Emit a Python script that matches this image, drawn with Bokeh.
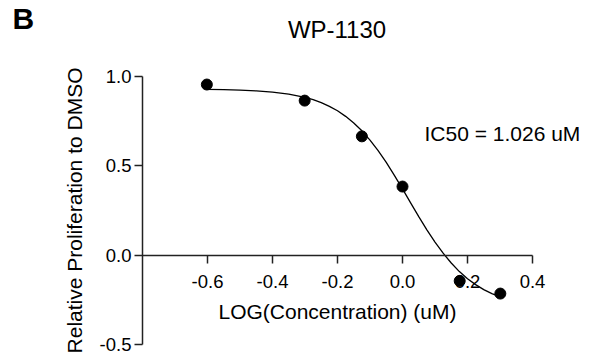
from bokeh.plotting import figure
from bokeh.models import LinearAxis, FixedTicker, NumeralTickFormatter, Label, Range1d
from bokeh.embed import file_html
from bokeh.resources import INLINE

# Data
log_conc = [-0.602, -0.301, -0.125, 0.0, 0.176, 0.301]
rel_prolif = [0.955, 0.865, 0.665, 0.384, -0.144, -0.215]

# fitted dose-response curve
curve_x = [-0.602, -0.55, -0.5, -0.45, -0.4, -0.35, -0.3, -0.275, -0.25, -0.225,
           -0.2, -0.175, -0.15, -0.125, -0.1, -0.075, -0.05, -0.025, 0.0, 0.025,
           0.05, 0.075, 0.1, 0.125, 0.15, 0.175, 0.2, 0.225, 0.25, 0.275, 0.301]
curve_y = [0.928, 0.926, 0.924, 0.919, 0.912, 0.901, 0.883, 0.870, 0.854, 0.833,
           0.808, 0.777, 0.740, 0.696, 0.644, 0.585, 0.519, 0.447, 0.371, 0.293,
           0.216, 0.142, 0.073, 0.011, -0.044, -0.092, -0.132, -0.165, -0.193, -0.215, -0.234]

x_ticks = [-0.6, -0.4, -0.2, 0.0, 0.2, 0.4]
y_ticks = [-0.5, 0.0, 0.5, 1.0]
x_bounds = (-0.8, 0.4)
y_bounds = (-0.5, 1.0)

title_text = "WP-1130"
panel_letter = "B"
ic50_text = "IC50 = 1.026 uM"
x_label = "LOG(Concentration) (uM)"
y_label = "Relative Proliferation to DMSO"

FONT = "Liberation Sans"
AX = "#222222"

p = figure(width=589, height=364, x_range=Range1d(-1.23692, 0.57538), y_range=Range1d(-0.61194, 1.42537),
           toolbar_location=None, output_backend="svg",
           x_axis_location=None, y_axis_location=None,
           min_border_left=0, min_border_right=0, min_border_top=0, min_border_bottom=0)
p.grid.visible = False
p.outline_line_color = None
p.background_fill_color = "white"
p.border_fill_color = "white"


def style_axis(ax, label_size):
    ax.axis_line_color = AX
    ax.axis_line_width = 1.5
    ax.major_tick_line_color = AX
    ax.major_tick_line_width = 1.5
    ax.major_tick_in = 0
    ax.major_tick_out = 8
    ax.minor_tick_in = 0
    ax.minor_tick_out = 0
    ax.major_label_text_font = FONT
    ax.major_label_text_font_size = "18.5px"
    ax.major_label_text_color = "black"
    ax.axis_label_text_font = FONT
    ax.axis_label_text_font_size = label_size
    ax.axis_label_text_font_style = "normal"
    ax.axis_label_text_color = "black"


yaxis = LinearAxis(ticker=FixedTicker(ticks=y_ticks), formatter=NumeralTickFormatter(format="0.0"),
                   axis_label=y_label, fixed_location=x_bounds[0], bounds=y_bounds)
style_axis(yaxis, "21px")
yaxis.major_label_standoff = 3
yaxis.axis_label_standoff = 11
p.add_layout(yaxis, "left")

xaxis = LinearAxis(ticker=FixedTicker(ticks=x_ticks), formatter=NumeralTickFormatter(format="0.0"),
                   axis_label=x_label, fixed_location=0, bounds=x_bounds)
style_axis(xaxis, "21px")
xaxis.major_label_standoff = 12
xaxis.axis_label_standoff = 8
p.add_layout(xaxis, "below")

p.line(curve_x, curve_y, line_color="black", line_width=1.3)
p.scatter(log_conc, rel_prolif, size=11, color="black")

p.add_layout(Label(x=-0.2015, y=1.2631, text=title_text, text_align="center", text_baseline="alphabetic",
                   text_font=FONT, text_font_size="24px", text_color="black"))
p.add_layout(Label(x=-1.2, y=1.3246, text=panel_letter, text_align="left", text_baseline="alphabetic",
                   text_font=FONT, text_font_size="30px", text_font_style="bold", text_color="black"))
p.add_layout(Label(x=0.0677, y=0.681, text=ic50_text, text_align="left", text_baseline="alphabetic",
                   text_font=FONT, text_font_size="21px", text_color="black"))

open("out.html", "w").write(file_html(p, INLINE))
